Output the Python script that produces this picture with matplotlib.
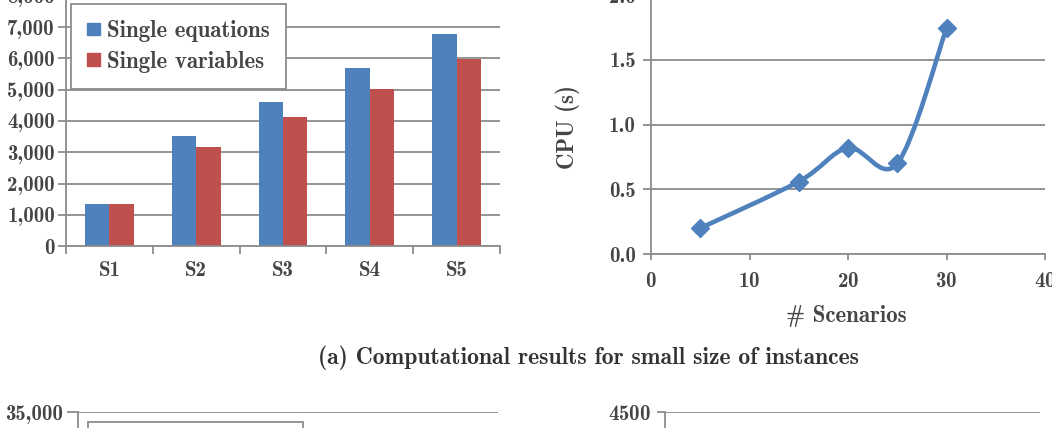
import numpy as np
import matplotlib
matplotlib.use("Agg")
from matplotlib import pyplot as plt
from matplotlib.path import Path
from matplotlib.patches import PathPatch, Patch

# Data
scenarios = ["S1", "S2", "S3", "S4", "S5"]
single_equations = [1350, 3520, 4600, 5680, 6780]
single_variables = [1340, 3180, 4120, 5020, 5980]

n_scenarios = [5, 15, 20, 25, 30]
cpu_seconds = [0.20, 0.56, 0.82, 0.70, 1.745]

blue = "#4F81BD"
red = "#C0504D"
grid_c = "#8C8C8C"
text_c = "#454545"

plt.rcParams["font.family"] = ["cmb10", "DejaVu Serif"]
plt.rcParams["axes.formatter.use_mathtext"] = True
plt.rcParams["font.size"] = 15

W, H = 1052, 428
fig = plt.figure(figsize=(W / 100, H / 100), dpi=100)
TICK_FS = 15
LEG_FS = 16.5
LABEL_FS = 16.5


def px_axes(x0, x1, y_bottom, y_top):
    # pixel box -> figure fraction
    return fig.add_axes([x0 / W, (H - y_bottom) / H, (x1 - x0) / W, (y_bottom - y_top) / H])


def style(ax):
    for s in ["top", "right"]:
        ax.spines[s].set_visible(False)
    for s in ["left", "bottom"]:
        ax.spines[s].set_color(grid_c)
        ax.spines[s].set_linewidth(1.3)
    ax.yaxis.grid(True, color=grid_c, linewidth=1.3)
    ax.set_axisbelow(True)
    ax.tick_params(colors=grid_c, labelcolor=text_c, width=1.3, labelsize=TICK_FS)


def legend(ax, x, y):
    handles = [Patch(color=blue), Patch(color=red)]
    lg = ax.legend(handles, ["Single equations", "Single variables"],
                   loc="upper left", bbox_to_anchor=(x, y), borderaxespad=0,
                   fancybox=False, framealpha=1, edgecolor=grid_c,
                   handlelength=0.57, handleheight=0.48, handletextpad=0.3,
                   labelspacing=0.38, borderpad=0.7, fontsize=LEG_FS)
    lg.get_frame().set_linewidth(1.3)
    for t in lg.get_texts():
        t.set_color(text_c)
    return lg


# (a) left: bar chart
ax1 = px_axes(66, 500, 246, -4)
style(ax1)
x = np.arange(len(scenarios))
bw = 0.28
ax1.bar(x - bw / 2, single_equations, bw, color=blue)
ax1.bar(x + bw / 2, single_variables, bw, color=red)
ax1.set_xlim(-0.5, len(scenarios) - 0.5)
ax1.set_ylim(0, 8000)
ax1.set_yticks(np.arange(0, 8001, 1000))
ax1.yaxis.set_major_formatter(matplotlib.ticker.FuncFormatter(lambda v, p: f"{int(v):,}"))
ax1.set_xticks(x)
ax1.set_xticklabels(scenarios)
ax1.set_xticks(np.arange(-0.5, len(scenarios)), minor=True)
ax1.tick_params(axis="x", which="major", length=0, pad=11)
ax1.tick_params(axis="x", which="minor", length=6, width=1.3, colors=grid_c)
ax1.tick_params(axis="y", length=6, pad=2)
legend(ax1, 5 / 434, 1 - 8 / 250)

# (a) right: CPU time line chart (smoothed)
ax2 = px_axes(651, 1045, 254, -4.7)
style(ax2)
ax2.set_xlim(0, 40)
ax2.set_ylim(0, 2.0)
ax2.set_xticks([0, 10, 20, 30, 40])
ax2.set_yticks([0.0, 0.5, 1.0, 1.5, 2.0])
ax2.yaxis.set_major_formatter(matplotlib.ticker.FormatStrFormatter("%.1f"))
ax2.tick_params(axis="x", length=4, pad=9)
ax2.tick_params(axis="y", length=6, pad=5)

pts = np.column_stack([n_scenarios, cpu_seconds])
verts = [pts[0]]
codes = [Path.MOVETO]
for i in range(len(pts) - 1):
    p_prev = pts[max(i - 1, 0)]
    p_next2 = pts[min(i + 2, len(pts) - 1)]
    c1 = pts[i] + (pts[i + 1] - p_prev) / 6
    c2 = pts[i + 1] - (p_next2 - pts[i]) / 6
    verts += [c1, c2, pts[i + 1]]
    codes += [Path.CURVE4] * 3
ax2.add_patch(PathPatch(Path(verts, codes), facecolor="none", edgecolor=blue,
                        linewidth=3.3, capstyle="round", joinstyle="round", zorder=3))
ax2.plot(n_scenarios, cpu_seconds, linestyle="none", marker="D", markersize=9.5,
         color=blue, zorder=4)
ax2.set_ylabel("CPU (s)", color=text_c, fontsize=LABEL_FS, va="center")
ax2.yaxis.set_label_coords((568 - 651) / 394, (254 - 127) / 258.7)
ax2.set_xlabel("# Scenarios", color=text_c, fontsize=LABEL_FS, va="center")
ax2.xaxis.set_label_coords((846 - 651) / 394, -(316 - 254) / 258.7)

fig.text(588 / W, 1 - 358 / H, "(a) Computational results for small size of instances",
         ha="center", va="center", fontsize=17, color="#333333")

# (b) charts, only their top edge is inside the picture
ax3 = px_axes(78, 498, 662, 412)
style(ax3)
ax3.set_ylim(0, 35000)
ax3.set_yticks(np.arange(0, 35001, 5000))
ax3.yaxis.set_major_formatter(matplotlib.ticker.FuncFormatter(lambda v, p: f"{int(v):,}"))
ax3.set_xticks([])
ax3.tick_params(axis="y", length=8, pad=3)
legend(ax3, 10 / 420, 1 - 10 / 250)

ax4 = px_axes(665, 1040, 662, 412)
style(ax4)
ax4.set_ylim(0, 4500)
ax4.set_yticks(np.arange(0, 4501, 500))
ax4.set_xticks([])
ax4.tick_params(axis="y", length=6, pad=4)

fig.savefig("out.png", dpi=100)
